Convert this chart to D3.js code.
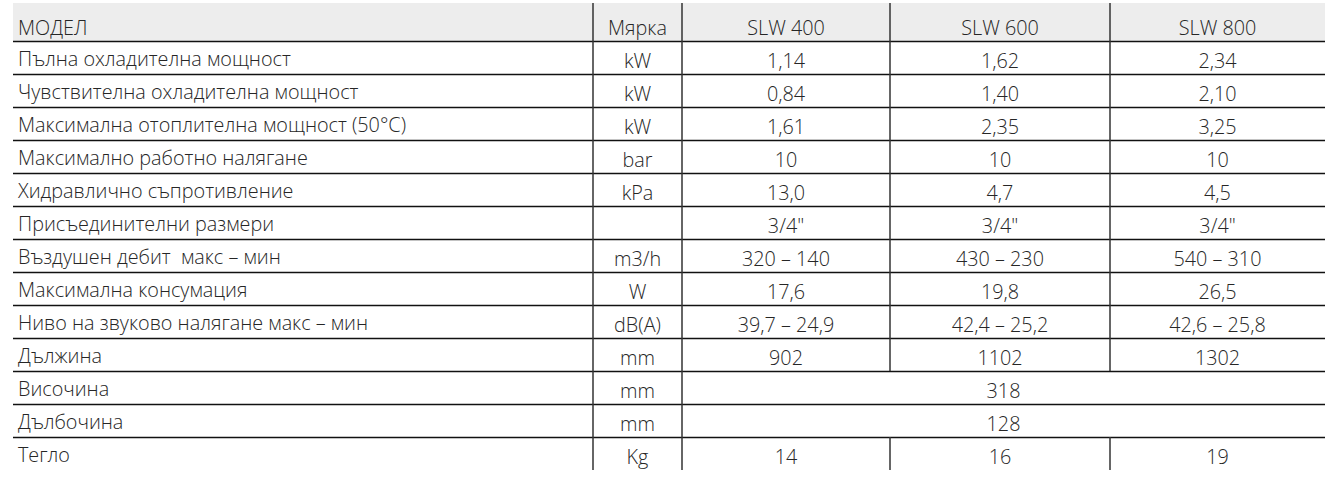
<!DOCTYPE html>
<html>
<head>
<meta charset="utf-8">
<script src="https://cdn.jsdelivr.net/npm/d3@7"></script>
<style>
  body { margin: 0; background: #fff; }
  text { font-family: "Open Sans", "Noto Sans", sans-serif; font-weight: 300; fill: #262626; white-space: pre; }
</style>
</head>
<body>
<div id="viz"></div>
<script>
// table content
var headers = ["МОДЕЛ", "Мярка", "SLW 400", "SLW 600", "SLW 800"];
var params = [
  "Пълна охладителна мощност",
  "Чувствителна охладителна мощност",
  "Максимална отоплителна мощност (50°C)",
  "Максимално работно налягане",
  "Хидравлично съпротивление",
  "Присъединителни размери",
  "Въздушен дебит  макс – мин",
  "Максимална консумация",
  "Ниво на звуково налягане макс – мин",
  "Дължина",
  "Височина",
  "Дълбочина",
  "Тегло"
];
var units = ["kW", "kW", "kW", "bar", "kPa", "", "m3/h", "W", "dB(A)", "mm", "mm", "mm", "Kg"];
var slw400 = ["1,14", "0,84", "1,61", "10", "13,0", "3/4\"", "320 – 140", "17,6", "39,7 – 24,9", "902", "318", "128", "14"];
var slw600 = ["1,62", "1,40", "2,35", "10", "4,7", "3/4\"", "430 – 230", "19,8", "42,4 – 25,2", "1102", "318", "128", "16"];
var slw800 = ["2,34", "2,10", "3,25", "10", "4,5", "3/4\"", "540 – 310", "26,5", "42,6 – 25,8", "1302", "318", "128", "19"];
// rows where one value covers all three models
var mergedRows = ["Височина", "Дълбочина"];

var width = 1328;
var height = 487;
var tableL = 13, tableR = 1325, tableT = 3, headB = 41, tableB = 470;
var colEdges = [tableL, 593, 682, 890, 1110, tableR];
var fs = '19.8px';

var svg = d3.select('#viz').append('svg')
  .attr('width', width)
  .attr('height', height);

var y = d3.scaleBand()
  .domain(params)
  .range([headB, tableB]);

var cols = d3.range(headers.length).map(function(i) {
  return { x0: colEdges[i], x1: colEdges[i + 1], cx: (colEdges[i] + colEdges[i + 1]) / 2 };
});

// header background
svg.append('rect')
  .attr('x', tableL)
  .attr('y', tableT)
  .attr('width', tableR - tableL)
  .attr('height', headB - tableT)
  .attr('fill', '#ededed');

// header text
svg.selectAll('text.head')
  .data(headers)
  .enter().append('text')
  .attr('class', 'head')
  .attr('x', function(d, i) { return i == 0 ? 18 : cols[i].cx; })
  .attr('y', 35)
  .attr('text-anchor', function(d, i) { return i == 0 ? 'start' : 'middle'; })
  .style('font-size', fs)
  .text(function(d) { return d; });

// horizontal lines (last row is left open)
svg.selectAll('line.h')
  .data(params.slice(0, -1))
  .enter().append('line')
  .attr('class', 'h')
  .attr('x1', tableL).attr('x2', tableR)
  .attr('y1', function(d) { return y(d) + 0.5; })
  .attr('y2', function(d) { return y(d) + 0.5; })
  .attr('stroke', '#111')
  .attr('stroke-width', 1.6);

svg.append('line')
  .attr('x1', tableL).attr('x2', tableR)
  .attr('y1', tableB - y.bandwidth() + 0.5)
  .attr('y2', tableB - y.bandwidth() + 0.5)
  .attr('stroke', '#111')
  .attr('stroke-width', 1.6);

// vertical lines
[1, 2].forEach(function(i) {
  svg.append('line')
    .attr('x1', colEdges[i]).attr('x2', colEdges[i])
    .attr('y1', tableT).attr('y2', tableB)
    .attr('stroke', '#333')
    .attr('stroke-width', 1.5);
});
[3, 4].forEach(function(i) {
  params.forEach(function(p) {
    if (mergedRows.indexOf(p) >= 0) return;
    svg.append('line')
      .attr('x1', colEdges[i]).attr('x2', colEdges[i])
      .attr('y1', y(p)).attr('y2', y(p) + y.bandwidth())
      .attr('stroke', '#333')
      .attr('stroke-width', 1.5);
  });
  svg.append('line')
    .attr('x1', colEdges[i]).attr('x2', colEdges[i])
    .attr('y1', tableT).attr('y2', headB)
    .attr('stroke', '#333')
    .attr('stroke-width', 1.5);
});

// body rows
var rows = svg.selectAll('g.row')
  .data(params)
  .enter().append('g')
  .attr('class', 'row')
  .attr('transform', function(d) { return 'translate(0,' + y(d) + ')'; });

rows.append('text')
  .attr('x', 18)
  .attr('y', 25)
  .style('font-size', fs)
  .text(function(d) { return d; });

rows.append('text')
  .attr('x', cols[1].cx)
  .attr('y', 27)
  .attr('text-anchor', 'middle')
  .style('font-size', fs)
  .text(function(d, i) { return units[i]; });

[slw400, slw600, slw800].forEach(function(series, k) {
  rows.filter(function(d) { return k == 0 || mergedRows.indexOf(d) < 0; })
    .append('text')
    .attr('x', function(d) {
      return mergedRows.indexOf(d) >= 0 ? (colEdges[2] + colEdges[5]) / 2 : cols[k + 2].cx;
    })
    .attr('y', 27)
    .attr('text-anchor', 'middle')
    .style('font-size', fs)
    .text(function(d) { return series[params.indexOf(d)]; });
});
</script>
</body>
</html>
